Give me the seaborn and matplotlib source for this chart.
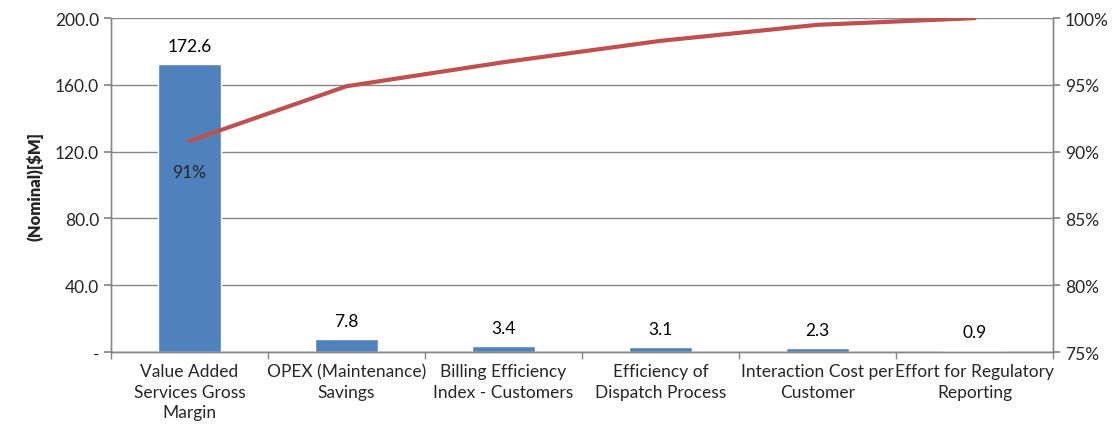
import seaborn as sns
import pandas as pd
import matplotlib.pyplot as plt
import numpy as np
from matplotlib.ticker import FuncFormatter, FixedLocator

sns.set_theme(style='white')
plt.rcParams['font.family'] = ['Lato', 'DejaVu Sans']

categories = ['Value Added\nServices Gross\nMargin', 'OPEX (Maintenance)\nSavings',
              'Billing Efficiency\nIndex - Customers', 'Efficiency of\nDispatch Process',
              'Interaction Cost per\nCustomer', 'Effort for Regulatory\nReporting']
values = [172.6, 7.8, 3.4, 3.1, 2.3, 0.9]
cum_pct = [90.8, 94.9, 96.7, 98.3, 99.5, 100.0]

df = pd.DataFrame({'cat': categories, 'val': values, 'cum': cum_pct})

fig = plt.figure(figsize=(11.14, 4.35), dpi=100)
ax = fig.add_axes([0.0996, 0.1885, 0.8457, 0.7675])

sns.barplot(data=df, x='cat', y='val', color='#4F81BD', saturation=1, width=0.4, ax=ax, zorder=2)
ax.set_ylim(0, 200)
ax.set_yticks(np.arange(0, 201, 40))
ax.yaxis.set_major_formatter(FuncFormatter(lambda v, p: '-' if v == 0 else f'{v:.1f}'))
ax.grid(axis='y', color='#868686', lw=1, zorder=0)
ax.set_axisbelow(True)
ax.set_xlim(-0.5, 5.5)
ax.set_xlabel('')
ax.set_ylabel('(Nominal)[$M]', fontsize=12, fontweight='heavy', labelpad=8)
ax.tick_params(axis='y', labelsize=12.5, length=5, color='#868686', direction='out', left=True)
ax.tick_params(axis='x', which='major', labelsize=12.5, length=0, pad=8)
for lbl in ax.get_xticklabels():
    lbl.set_linespacing(1.35)
ax.xaxis.set_minor_locator(FixedLocator(np.arange(-0.5, 6, 1)))
ax.tick_params(axis='x', which='minor', length=5, color='#868686', direction='out', bottom=True)

for i, v in enumerate(values):
    ax.text(i, v + 6, f'{v:.1f}', ha='center', va='bottom', fontsize=12.5, color='black')

ax2 = ax.twinx()
sns.lineplot(x=np.arange(len(cum_pct)), y=cum_pct, color='#C0504D', lw=3, ax=ax2, sort=False)
ax2.set_ylim(75, 100)
ax2.set_yticks(np.arange(75, 101, 5))
ax2.yaxis.set_major_formatter(FuncFormatter(lambda v, p: f'{v:.0f}%'))
ax2.tick_params(axis='y', labelsize=12.5, length=5, color='#868686', direction='out', right=True)
ax2.text(0, cum_pct[0] - 2.3, f'{cum_pct[0]:.0f}%', ha='center', va='center', fontsize=12.5)

for a in (ax, ax2):
    for s in a.spines.values():
        s.set_color('#868686')
        s.set_linewidth(1)
    a.spines['top'].set_visible(False)

plt.savefig('out.png', dpi=100)
